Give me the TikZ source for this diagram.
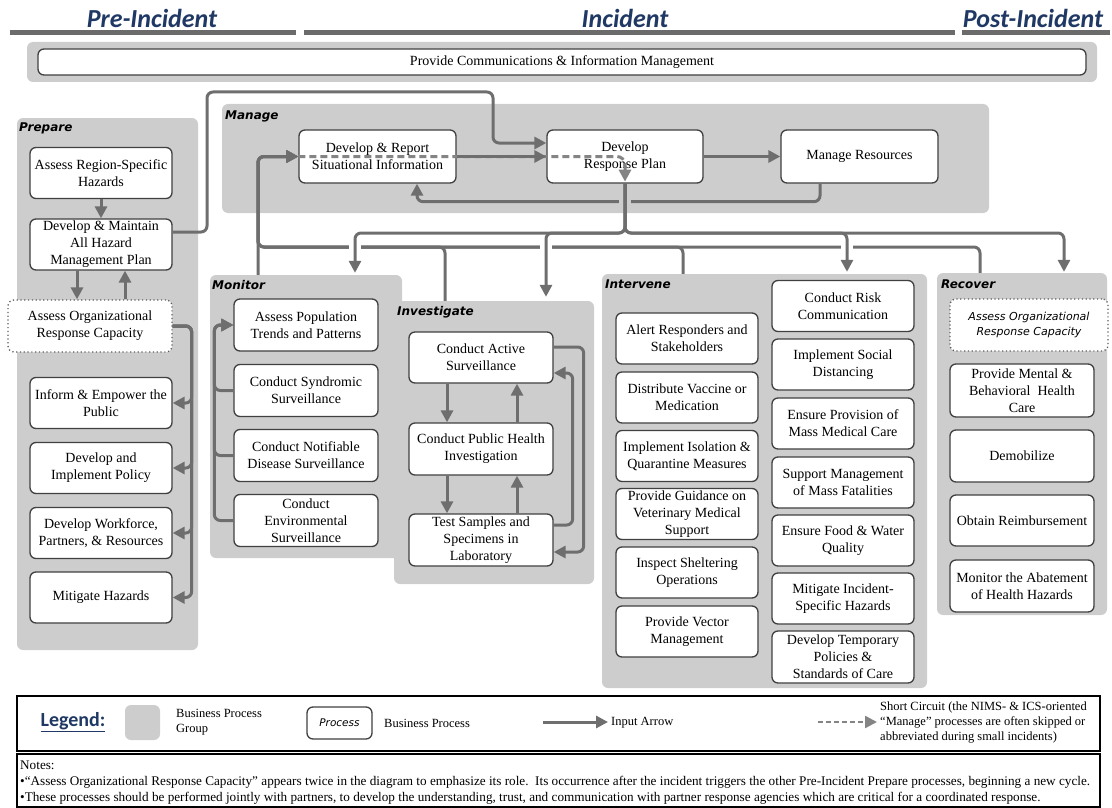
\documentclass[tikz,border=0pt]{standalone}
\usepackage{fontspec}
\setmainfont{Liberation Serif}
\newfontfamily\hdrfont{Carlito}
\newfontfamily\lblfont{DejaVu Sans}
\usetikzlibrary{arrows.meta}
\definecolor{grp}{HTML}{CDCDCD}
\definecolor{conn}{HTML}{6E6E6E}
\definecolor{bord}{HTML}{404040}
\definecolor{navy}{HTML}{1F3864}
\definecolor{hline}{HTML}{6B6B6B}
\tikzset{
 grpbox/.style={fill=grp, rounded corners=6pt, draw=none, inner sep=0pt},
 pbox/.style={draw=bord, line width=1.3pt, fill=white, rounded corners=6pt, align=center, inner sep=1pt, font=\fontsize{14}{17}\selectfont, text=black},
 dotbox/.style={pbox, draw=bord!85, dash pattern=on 1.2pt off 2.6pt},
 link/.style={draw=conn, line width=3pt, rounded corners=6pt, -{Triangle[length=12pt,width=12pt]}},
 sclink/.style={draw=conn!85!white, line width=3pt, dash pattern=on 7pt off 4pt, rounded corners=8pt, -{Triangle[length=12pt,width=12pt]}},
 grplbl/.style={anchor=north west, inner sep=0pt, font=\lblfont\bfseries\itshape\fontsize{12}{14}\selectfont},
 hdr/.style={font=\hdrfont\bfseries\itshape\fontsize{26}{28}\selectfont, text=navy, inner sep=0pt},
 hbar/.style={draw=hline, line width=5pt},
 txt/.style={font=\fontsize{12.5}{15}\selectfont, inner sep=0pt},
 frame/.style={draw=black, line width=2.5pt, inner sep=0pt},
}
\begin{document}
\begin{tikzpicture}[x=1pt,y=-1pt]
\useasboundingbox (0,0) rectangle (1112,808);
% headers
\node[hdr] (hpre) at (152,18) {Pre-Incident};
\node[hdr] (hinc) at (625,18) {Incident};
\node[hdr] (hpost) at (1033,18) {Post-Incident};
\draw[hbar] (10,33) -- (296,33);
\draw[hbar] (304,33) -- (955,33);
\draw[hbar] (962,33) -- (1110,33);
% communications band
\node[grpbox, minimum width=1070pt, minimum height=40pt] (gcomm) at (562,62) {};
\node[pbox, minimum width=1048pt, minimum height=26pt] (comm) at (562,62) {Provide Communications \& Information Management};
% groups
\node[grpbox, minimum width=181pt, minimum height=532pt] (gprep) at (107.5,384) {};
\node[grpbox, minimum width=767pt, minimum height=109pt] (gman) at (605.5,158.5) {};
\node[grpbox, minimum width=192pt, minimum height=283pt] (gmon) at (306,416.5) {};
\node[grpbox, minimum width=200pt, minimum height=283pt] (ginv) at (494,442.5) {};
\node[grpbox, minimum width=325pt, minimum height=414pt] (gint) at (764.5,481) {};
\node[grpbox, minimum width=170pt, minimum height=342pt] (grec) at (1022,444) {};
\node[grplbl] (lprep) at (19,123) {Prepare};
\node[grplbl] (lman) at (225,111) {Manage};
\node[grplbl] (lmon) at (212,280) {Monitor};
\node[grplbl] (linv) at (397,306) {Investigate};
\node[grplbl] (lint) at (605,280) {Intervene};
\node[grplbl] (lrec) at (941,280) {Recover};
% Prepare
\node[pbox, minimum width=142pt, minimum height=51pt] (arsh) at (101,173) {Assess Region-Specific\\Hazards};
\node[pbox, minimum width=142pt, minimum height=51pt] (dmp) at (101,244.5) {Develop \& Maintain\\All Hazard\\Management Plan};
\node[dotbox, minimum width=164pt, minimum height=52pt] (aorc1) at (90,326) {Assess Organizational\\Response Capacity};
\node[pbox, minimum width=142pt, minimum height=51pt] (iep) at (101,403) {Inform \& Empower the\\Public};
\node[pbox, minimum width=142pt, minimum height=51pt] (dip) at (101,468) {Develop and\\Implement Policy};
\node[pbox, minimum width=142pt, minimum height=51pt] (dwp) at (101,533) {Develop Workforce,\\Partners, \& Resources};
\node[pbox, minimum width=142pt, minimum height=51pt] (mh) at (101,597.5) {Mitigate Hazards};
% Manage
\node[pbox, minimum width=157pt, minimum height=53pt] (drsi) at (377.5,156.5) {Develop \& Report\\Situational Information};
\node[pbox, minimum width=156pt, minimum height=53pt] (drp) at (625,156.5) {Develop\\Response Plan};
\node[pbox, minimum width=157pt, minimum height=53pt] (mr) at (859.5,156.5) {Manage Resources};
% Monitor
\node[pbox, minimum width=144pt, minimum height=52pt] (apt) at (306,325) {Assess Population\\Trends and Patterns};
\node[pbox, minimum width=144pt, minimum height=52pt] (css) at (306,390.5) {Conduct Syndromic\\Surveillance};
\node[pbox, minimum width=144pt, minimum height=52pt] (cnds) at (306,455.5) {Conduct Notifiable\\Disease Surveillance};
\node[pbox, minimum width=144pt, minimum height=52pt] (ces) at (306,520.5) {Conduct\\Environmental\\Surveillance};
% Investigate
\node[pbox, minimum width=144pt, minimum height=51pt] (cas) at (481,357.5) {Conduct Active\\Surveillance};
\node[pbox, minimum width=144pt, minimum height=52pt] (cphi) at (481,449) {Conduct Public Health\\Investigation};
\node[pbox, minimum width=144pt, minimum height=52pt] (tssl) at (481,540) {Test Samples and\\Specimens in\\Laboratory};
% Intervene
\node[pbox, minimum width=142pt, minimum height=51pt] (ars) at (687,338.5) {Alert Responders and\\Stakeholders};
\node[pbox, minimum width=142pt, minimum height=51pt] (dvm) at (687,397.5) {Distribute Vaccine or\\Medication};
\node[pbox, minimum width=142pt, minimum height=51pt] (iiq) at (687,456) {Implement Isolation \&\\Quarantine Measures};
\node[pbox, minimum width=142pt, minimum height=51pt] (pgv) at (687,514) {Provide Guidance on\\Veterinary Medical\\Support};
\node[pbox, minimum width=142pt, minimum height=51pt] (iso) at (687,572.5) {Inspect Sheltering\\Operations};
\node[pbox, minimum width=142pt, minimum height=51pt] (pvm) at (687,631.5) {Provide Vector\\Management};
\node[pbox, minimum width=142pt, minimum height=51pt] (crc) at (843,306) {Conduct Risk\\Communication};
\node[pbox, minimum width=142pt, minimum height=51pt] (isd) at (843,364.5) {Implement Social\\Distancing};
\node[pbox, minimum width=142pt, minimum height=51pt] (epm) at (843,423.5) {Ensure Provision of\\Mass Medical Care};
\node[pbox, minimum width=142pt, minimum height=51pt] (smf) at (843,482.5) {Support Management\\of Mass Fatalities};
\node[pbox, minimum width=142pt, minimum height=51pt] (efw) at (843,540.5) {Ensure Food \& Water\\Quality};
\node[pbox, minimum width=142pt, minimum height=51pt] (mis) at (843,598.5) {Mitigate Incident-\\Specific Hazards};
\node[pbox, minimum width=142pt, minimum height=52pt] (dtp) at (843,657) {Develop Temporary\\Policies \&\\Standards of Care};
% Recover
\node[dotbox, minimum width=158pt, minimum height=52pt, font=\lblfont\itshape\fontsize{11}{15}\selectfont] (aorc2) at (1029,325) {Assess Organizational\\Response Capacity};
\node[pbox, minimum width=144pt, minimum height=53pt] (pmb) at (1022,390.5) {Provide Mental \&\\Behavioral\ \ Health\\Care};
\node[pbox, minimum width=144pt, minimum height=52pt] (demob) at (1022,456) {Demobilize};
\node[pbox, minimum width=144pt, minimum height=51pt] (obr) at (1022,520.5) {Obtain Reimbursement};
\node[pbox, minimum width=144pt, minimum height=52pt] (mab) at (1022,586) {Monitor the Abatement\\of Health Hazards};
% Prepare connectors
\draw[link] (arsh) -- (dmp);
\draw[link] ([xshift=-24pt]dmp.south) -- ([xshift=-24pt]dmp.south |- aorc1.north);
\draw[link] ([xshift=24pt]dmp.south |- aorc1.north) -- ([xshift=24pt]dmp.south);
\foreach \b in {iep,dip,dwp,mh}{
  \draw[link] (aorc1.east) -| ([xshift=19pt]\b.east) -- (\b.east);
}
\coordinate (c1) at (207,92);
\coordinate (c2) at (493,143);
\draw[link] ([yshift=12.5pt]dmp.east) -| (c1) -| (c2) -- ([yshift=13.5pt]drp.west);
% Manage connectors
\draw[link] (drp) -- (mr);
\draw[link] ([xshift=-39.5pt]mr.south) |- ([xshift=39.5pt,yshift=-18pt]drsi.south) -- ([xshift=39.5pt]drsi.south);
\draw[grp, line width=5pt] (619,201) -- (631,201);
% inputs to Develop & Report (line B)
\coordinate (jB) at (258,247);
\draw[link] ([xshift=-48pt]gmon.north) |- (drsi.west);
\draw[link] ([xshift=-49pt]ginv.north) |- (jB) |- (drsi.west);
\draw[link] ([xshift=-81.5pt]gint.north) |- (jB) |- (drsi.west);
\draw[link] ([xshift=-42pt]grec.north) |- (jB) |- (drsi.west);
\draw[white, line width=5pt] (349,247) -- (361,247);
\draw[white, line width=5pt] (540,247) -- (552,247);
\draw[white, line width=5pt] (841,247) -- (853,247);
% outputs of Develop Response Plan (line A)
\coordinate (jA) at (625,233);
\draw[link] (drp.south) -- (jA) -| ([xshift=49pt,yshift=2pt]gmon.north);
\draw[link] (drp.south) -- (jA) -| ([xshift=52pt,yshift=4pt]ginv.north);
\draw[link] (drp.south) -- (jA) -| ([xshift=82.5pt,yshift=2pt]gint.north);
\draw[link] (drp.south) -- (jA) -| ([xshift=42pt,yshift=1pt]grec.north);
% short circuit
\draw[sclink] (drsi.west) -- (drp.center) -- ([yshift=2pt]drp.south);
\draw[link] (drsi) -- (drp);
% Monitor connectors
\foreach \b in {css,cnds,ces}{
  \draw[link] (\b.west) -- ++(-19,0) |- (apt.west);
}
% Investigate connectors
\draw[link] ([xshift=-34pt]cas.south) -- ([xshift=-34pt]cphi.north);
\draw[link] ([xshift=-34pt]cphi.south) -- ([xshift=-34pt]tssl.north);
\draw[link] ([xshift=36pt]cphi.north) -- ([xshift=36pt]cas.south);
\draw[link] ([xshift=36pt]tssl.north) -- ([xshift=36pt]cphi.south);
\draw[link] ([yshift=10.5pt]cas.east) -- ++(30,0) |- ([yshift=-12pt]tssl.east);
\draw[link] ([yshift=15pt]tssl.east) -- ++(19,0) |- ([yshift=-15.5pt]cas.east);
% Legend
\node[frame, minimum width=1083pt, minimum height=55pt] (legbox) at (558.5,723.5) {};
\node[font=\hdrfont\bfseries\fontsize{20}{22}\selectfont, text=navy, inner sep=0pt] (leg) at (73,722) {\underline{Legend:}};
\node[grpbox, minimum width=35pt, minimum height=35pt] (lgrp) at (142.5,722.5) {};
\node[txt, anchor=west, align=left] (lgrpt) at (176,722) {Business Process\\Group};
\node[pbox, minimum width=65pt, minimum height=32pt, font=\lblfont\itshape\fontsize{10.5}{12}\selectfont] (lproc) at (339.5,723) {Process};
\node[txt, anchor=west] (lproct) at (384,723) {Business Process};
\coordinate (la1) at (543,722);
\coordinate (la2) at (608,722);
\draw[link] (la1) -- (la2);
\node[txt, anchor=west] (lat) at (611,723) {Input Arrow};
\coordinate (ls1) at (818,722);
\coordinate (ls2) at (877,722);
\draw[sclink, line width=2.5pt, dash pattern=on 5pt off 3pt] (ls1) -- (ls2);
\node[txt, anchor=west, align=left] (lst) at (880,723) {Short Circuit (the NIMS- \& ICS-oriented\\“Manage” processes are often skipped or\\abbreviated during small incidents)};
% Notes
\node[frame, minimum width=1083pt, minimum height=53pt] (notebox) at (558.5,780.5) {};
\node[anchor=north west, align=left, inner sep=0pt, font=\fontsize{13.2}{16}\selectfont] (notes) at (20,761) {Notes:\\•“Assess Organizational Response Capacity” appears twice in the diagram to emphasize its role.\ \ Its occurrence after the incident triggers the other Pre-Incident Prepare processes, beginning a new cycle.\\•These processes should be performed jointly with partners, to develop the understanding, trust, and communication with partner response agencies which are critical for a coordinated response.};
\end{tikzpicture}
\end{document}
